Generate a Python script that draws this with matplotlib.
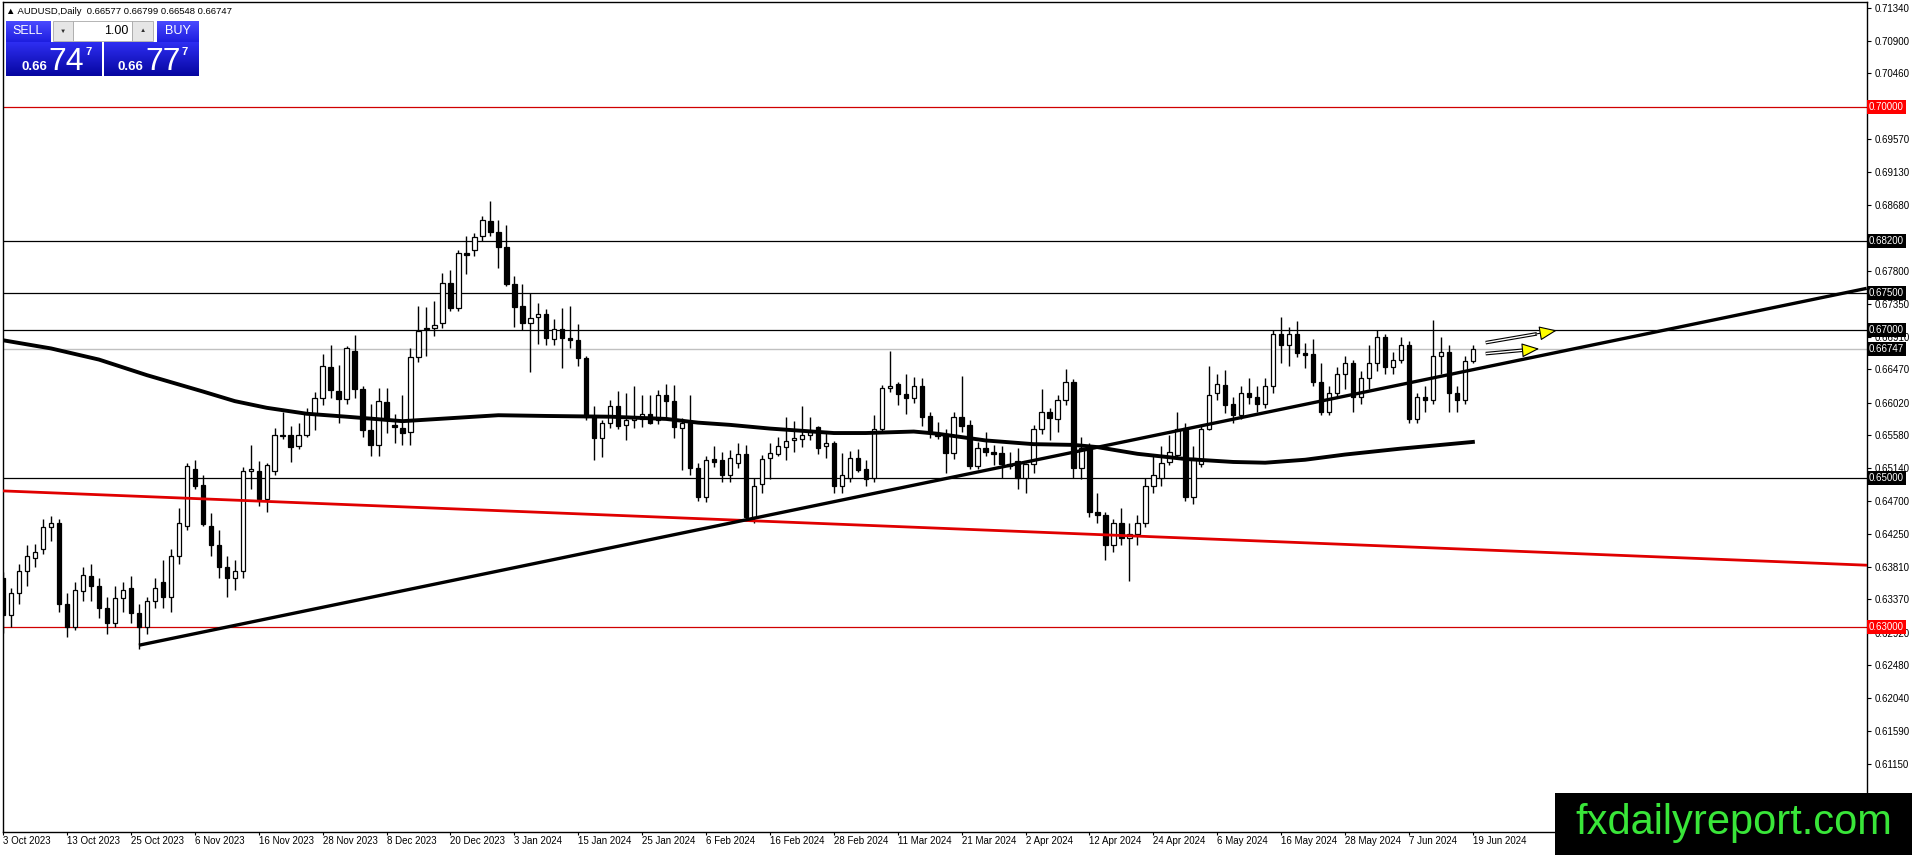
import numpy as np
import matplotlib.pyplot as plt
from matplotlib.patches import Rectangle
from matplotlib.transforms import blended_transform_factory

plt.rcParams['font.family'] = ['Liberation Sans', 'DejaVu Sans']

W, H = 1912, 855

# daily candles, bar 0 = 3 Oct 2023 ... bar 184 = 19 Jun 2024
opens = [0.6366, 0.6316, 0.6345, 0.6375, 0.6392, 0.6405, 0.6434, 0.6440, 0.6330, 0.6300,
         0.6348, 0.6368, 0.6355, 0.6325, 0.6305, 0.6338, 0.6352, 0.6318, 0.6300, 0.6335,
         0.6360, 0.6340, 0.6395, 0.6436, 0.6512, 0.6491, 0.6436, 0.6410, 0.6380, 0.6365,
         0.6375, 0.6510, 0.6510, 0.6472, 0.6510, 0.6559, 0.6558, 0.6543, 0.6559, 0.6587,
         0.6608, 0.6650, 0.6618, 0.6607, 0.6672, 0.6620, 0.6565, 0.6545, 0.6603, 0.6572,
         0.6568, 0.6562, 0.6663, 0.6701, 0.6702, 0.6709, 0.6763, 0.6730, 0.6803, 0.6807,
         0.6826, 0.6847, 0.6832, 0.6812, 0.6762, 0.6732, 0.6709, 0.6718, 0.6722, 0.6688,
         0.6701, 0.6689, 0.6686, 0.6662, 0.6584, 0.6554, 0.6574, 0.6598, 0.6572, 0.6579,
         0.6580, 0.6586, 0.6578, 0.6612, 0.6604, 0.6568, 0.6575, 0.6514, 0.6475, 0.6526,
         0.6524, 0.6505, 0.6520, 0.6533, 0.6448, 0.6492, 0.6527, 0.6533, 0.6542, 0.6552,
         0.6553, 0.6559, 0.6569, 0.6543, 0.6547, 0.6490, 0.6500, 0.6528, 0.6513, 0.6501,
         0.6566, 0.6622, 0.6627, 0.6613, 0.6608, 0.6625, 0.6584, 0.6561, 0.6560, 0.6534,
         0.6583, 0.6572, 0.6516, 0.6541, 0.6535, 0.6534, 0.6516, 0.6523, 0.6500, 0.6519,
         0.6566, 0.6589, 0.6580, 0.6605, 0.6630, 0.6514, 0.6540, 0.6455, 0.6450, 0.6410,
         0.6440, 0.6420, 0.6425, 0.6440, 0.6490, 0.6500, 0.6522, 0.6532, 0.6568, 0.6475,
         0.6519, 0.6567, 0.6615, 0.6626, 0.6600, 0.6585, 0.6615, 0.6610, 0.6600, 0.6625,
         0.6695, 0.6679, 0.6695, 0.6669, 0.6668, 0.6630, 0.6590, 0.6615, 0.6640, 0.6655,
         0.6610, 0.6635, 0.6655, 0.6690, 0.6650, 0.6660, 0.6680, 0.6580, 0.6610, 0.6605,
         0.6665, 0.6670, 0.6615, 0.6605, 0.66577]
highs = [0.6374, 0.6352, 0.6385, 0.6410, 0.6412, 0.6445, 0.6449, 0.6445, 0.6345, 0.6360,
         0.6380, 0.6385, 0.6365, 0.6340, 0.6355, 0.6360, 0.6368, 0.6330, 0.6340, 0.6365,
         0.6390, 0.6405, 0.6460, 0.6521, 0.6525, 0.6504, 0.6453, 0.6430, 0.6395, 0.6390,
         0.6515, 0.6545, 0.6523, 0.6520, 0.6568, 0.6590, 0.6570, 0.6575, 0.6595, 0.6616,
         0.6668, 0.6679, 0.6653, 0.6678, 0.6693, 0.6625, 0.6600, 0.6622, 0.6622, 0.6586,
         0.6612, 0.6675, 0.6732, 0.6731, 0.6739, 0.6777, 0.6781, 0.6807, 0.6827, 0.6830,
         0.6854, 0.6874, 0.6848, 0.6841, 0.6773, 0.6762, 0.6750, 0.6736, 0.6728, 0.6715,
         0.6729, 0.6732, 0.6708, 0.6665, 0.6597, 0.6578, 0.6605, 0.6617, 0.6615, 0.6624,
         0.6612, 0.6612, 0.6619, 0.6627, 0.6626, 0.6581, 0.6612, 0.6520, 0.6530, 0.6543,
         0.6535, 0.6538, 0.6547, 0.6545, 0.6500, 0.6532, 0.6548, 0.6555, 0.6582, 0.6577,
         0.6598, 0.6582, 0.6570, 0.6563, 0.6550, 0.6534, 0.6537, 0.6539, 0.6524, 0.6585,
         0.6626, 0.6671, 0.6630, 0.6641, 0.6637, 0.6635, 0.6590, 0.6576, 0.6567, 0.6589,
         0.6638, 0.6578, 0.6549, 0.6563, 0.6545, 0.6544, 0.6536, 0.6541, 0.6521, 0.6572,
         0.6621, 0.6595, 0.6612, 0.6647, 0.6634, 0.6556, 0.6548, 0.6480, 0.6455, 0.6445,
         0.6460, 0.6440, 0.6450, 0.6500, 0.6533, 0.6543, 0.6558, 0.6589, 0.6575, 0.6544,
         0.6572, 0.6651, 0.6640, 0.6646, 0.6610, 0.6625, 0.6635, 0.6625, 0.6635, 0.6700,
         0.6718, 0.6704, 0.6712, 0.6682, 0.6688, 0.6656, 0.6625, 0.6650, 0.6665, 0.6660,
         0.6645, 0.6680, 0.6700, 0.6695, 0.6670, 0.6690, 0.6685, 0.6615, 0.6625, 0.6713,
         0.6690, 0.6680, 0.6625, 0.6665, 0.66799]
lows = [0.6292, 0.6300, 0.6330, 0.6355, 0.6380, 0.6398, 0.6415, 0.6320, 0.6286, 0.6295,
        0.6335, 0.6335, 0.6312, 0.6290, 0.6300, 0.6320, 0.6305, 0.6270, 0.6290, 0.6325,
        0.6325, 0.6320, 0.6385, 0.6430, 0.6485, 0.6436, 0.6395, 0.6365, 0.6340, 0.6350,
        0.6365, 0.6485, 0.6463, 0.6455, 0.6505, 0.6553, 0.6522, 0.6540, 0.6555, 0.6565,
        0.6599, 0.6608, 0.6575, 0.6600, 0.6608, 0.6555, 0.6530, 0.6530, 0.6561, 0.6548,
        0.6545, 0.6545, 0.6657, 0.6665, 0.6692, 0.6702, 0.6726, 0.6726, 0.6775, 0.6800,
        0.6820, 0.6827, 0.6784, 0.6759, 0.6704, 0.6700, 0.6643, 0.6681, 0.6680, 0.6680,
        0.6649, 0.6675, 0.6652, 0.6579, 0.6525, 0.6529, 0.6568, 0.6567, 0.6552, 0.6568,
        0.6569, 0.6573, 0.6573, 0.6580, 0.6554, 0.6511, 0.6504, 0.6469, 0.6468, 0.6515,
        0.6495, 0.6495, 0.6514, 0.6443, 0.6440, 0.6480, 0.6499, 0.6530, 0.6525, 0.6536,
        0.6542, 0.6552, 0.6533, 0.6528, 0.6480, 0.6480, 0.6495, 0.6508, 0.6490, 0.6495,
        0.6562, 0.6616, 0.6599, 0.6587, 0.6602, 0.6571, 0.6554, 0.6553, 0.6507, 0.6526,
        0.6563, 0.6512, 0.6512, 0.6530, 0.6518, 0.6500, 0.6512, 0.6485, 0.6480, 0.6507,
        0.6560, 0.6551, 0.6562, 0.6599, 0.6500, 0.6499, 0.6448, 0.6440, 0.6390, 0.6400,
        0.6410, 0.6362, 0.6410, 0.6435, 0.6480, 0.6490, 0.6518, 0.6528, 0.6470, 0.6465,
        0.6515, 0.6565, 0.6605, 0.6588, 0.6575, 0.6580, 0.6600, 0.6590, 0.6595, 0.6615,
        0.6656, 0.6651, 0.6664, 0.6648, 0.6625, 0.6585, 0.6585, 0.6610, 0.6620, 0.6590,
        0.6600, 0.6620, 0.6645, 0.6640, 0.6640, 0.6655, 0.6575, 0.6575, 0.6590, 0.6600,
        0.6640, 0.6590, 0.6590, 0.6600, 0.66548]
closes = [0.6316, 0.6345, 0.6375, 0.6395, 0.6400, 0.6434, 0.6440, 0.6330, 0.6300, 0.6350,
          0.6370, 0.6355, 0.6325, 0.6305, 0.6338, 0.6350, 0.6318, 0.6300, 0.6335, 0.6352,
          0.6340, 0.6395, 0.6440, 0.6516, 0.6490, 0.6438, 0.6410, 0.6380, 0.6365, 0.6375,
          0.6510, 0.6512, 0.6472, 0.6518, 0.6559, 0.6557, 0.6542, 0.6558, 0.6587, 0.6608,
          0.6651, 0.6619, 0.6607, 0.6676, 0.6621, 0.6565, 0.6545, 0.6604, 0.6579, 0.6569,
          0.6561, 0.6663, 0.6699, 0.6703, 0.6707, 0.6763, 0.6730, 0.6804, 0.6801, 0.6825,
          0.6848, 0.6832, 0.6812, 0.6762, 0.6731, 0.6709, 0.6716, 0.6722, 0.6689, 0.6701,
          0.6689, 0.6687, 0.6662, 0.6583, 0.6554, 0.6574, 0.6598, 0.6571, 0.6579, 0.6583,
          0.6587, 0.6575, 0.6612, 0.6604, 0.6569, 0.6575, 0.6514, 0.6475, 0.6525, 0.6522,
          0.6505, 0.6527, 0.6533, 0.6448, 0.6490, 0.6526, 0.6534, 0.6543, 0.6550, 0.6554,
          0.6559, 0.6562, 0.6541, 0.6547, 0.6490, 0.6505, 0.6528, 0.6511, 0.6499, 0.6566,
          0.6622, 0.6625, 0.6613, 0.6608, 0.6625, 0.6583, 0.6561, 0.6557, 0.6534, 0.6583,
          0.6571, 0.6516, 0.6541, 0.6535, 0.6533, 0.6519, 0.6519, 0.6500, 0.6519, 0.6567,
          0.6589, 0.6581, 0.6605, 0.6630, 0.6514, 0.6541, 0.6455, 0.6450, 0.6410, 0.6440,
          0.6420, 0.6425, 0.6440, 0.6490, 0.6505, 0.6521, 0.6535, 0.6567, 0.6475, 0.6528,
          0.6567, 0.6612, 0.6627, 0.6599, 0.6585, 0.6615, 0.6610, 0.6600, 0.6625, 0.6695,
          0.6679, 0.6695, 0.6669, 0.6666, 0.6630, 0.6590, 0.6615, 0.6640, 0.6655, 0.6610,
          0.6635, 0.6655, 0.6690, 0.6650, 0.6660, 0.6680, 0.6580, 0.6610, 0.6605, 0.6665,
          0.6670, 0.6615, 0.6605, 0.6658, 0.66747]

date_labels = ['3 Oct 2023', '13 Oct 2023', '25 Oct 2023', '6 Nov 2023', '16 Nov 2023',
               '28 Nov 2023', '8 Dec 2023', '20 Dec 2023', '3 Jan 2024', '15 Jan 2024',
               '25 Jan 2024', '6 Feb 2024', '16 Feb 2024', '28 Feb 2024', '11 Mar 2024',
               '21 Mar 2024', '2 Apr 2024', '12 Apr 2024', '24 Apr 2024', '6 May 2024',
               '16 May 2024', '28 May 2024', '7 Jun 2024', '19 Jun 2024']
label_step = 8

# moving average
ma_bars = [0, 6, 12, 18, 25, 29, 33, 38, 43, 50, 56, 62, 68, 76, 83, 87, 91, 96, 100,
           104, 108, 114, 117, 123, 129, 134, 137, 142, 148, 154, 158, 163, 168, 175, 184]
ma_vals = [0.6686, 0.6675, 0.6660, 0.6639, 0.6617, 0.6604, 0.6595, 0.6587, 0.6583, 0.6577,
           0.6581, 0.6585, 0.6584, 0.6583, 0.6580, 0.6575, 0.6572, 0.6567, 0.6564, 0.6561,
           0.6561, 0.6563, 0.6560, 0.6551, 0.6546, 0.6545, 0.6542, 0.6533, 0.6526, 0.6522,
           0.6521, 0.6525, 0.6532, 0.6540, 0.6549]

# drawn objects
trend_bars = [17, 93]
trend_vals = [0.6275, 0.6444]
red_bars = [0, 233]
red_vals = [0.6483, 0.6383]
black_levels = [0.68200, 0.67500, 0.67000, 0.65000]
red_levels = [0.70000, 0.63000]
bid = 0.66747

tick_vals = [0.71340, 0.70900, 0.70460, 0.69570, 0.69130, 0.68680, 0.67800, 0.67350,
             0.66910, 0.66470, 0.66020, 0.65580, 0.65140, 0.64700, 0.64250, 0.63810,
             0.63370, 0.62920, 0.62480, 0.62040, 0.61590, 0.61150]

fig = plt.figure(figsize=(W / 100, H / 100), dpi=100)
ax = fig.add_axes([2.7 / W, 1 - 832 / H, 1864 / W, 830 / H])
ax.set_xlim(-0.05, 233.3)
ax.set_ylim(0.60233, 0.71419)
for s in ax.spines.values():
    s.set_linewidth(1.0)

o = np.array(opens); h = np.array(highs); l = np.array(lows); c = np.array(closes)
x = np.arange(len(c))
up = c >= o
bot = np.minimum(o, c)
hgt = np.maximum(np.abs(c - o), 0.00006)

ax.vlines(x, l, h, color='black', lw=1.0, zorder=3)
ax.bar(x[up], hgt[up], bottom=bot[up], width=0.55, facecolor='white',
       edgecolor='black', lw=0.9, zorder=4)
ax.bar(x[~up], hgt[~up], bottom=bot[~up], width=0.55, facecolor='black',
       edgecolor='black', lw=0.9, zorder=4)

# levels
for v in black_levels:
    ax.axhline(v, color='black', lw=0.9, zorder=2)
for v in red_levels:
    ax.axhline(v, color='#d00000', lw=0.9, zorder=2)
ax.axhline(bid, color='#c0c0c0', lw=1.0, zorder=2)

# moving average and trend lines
ax.plot(ma_bars, ma_vals, color='black', lw=2.8, zorder=6)
slope = (trend_vals[1] - trend_vals[0]) / (trend_bars[1] - trend_bars[0])
x_end = ax.get_xlim()[1]
ax.plot([trend_bars[0], x_end],
        [trend_vals[0], trend_vals[0] + slope * (x_end - trend_bars[0])],
        color='black', lw=2.4, zorder=6, solid_capstyle='butt')
ax.axline((red_bars[0], red_vals[0]), (red_bars[1], red_vals[1]),
          color='#e00000', lw=2.0, zorder=5)

# arrows
for (x0, y0, x1, y1) in [(185.6, 0.66828, 194.5, 0.66993), (185.6, 0.66680, 192.3, 0.66746)]:
    xm = x0 + (x1 - x0) * 0.72
    ym = y0 + (y1 - y0) * 0.72
    ax.plot([x0, xm], [y0, ym], color='black', lw=2.6, zorder=7, solid_capstyle='butt')
    ax.plot([x0, xm], [y0, ym], color='white', lw=1.0, zorder=8, solid_capstyle='butt')
    ax.annotate('', xy=(x1, y1), xytext=(xm - (x1 - x0) * 0.02, ym - (y1 - y0) * 0.02),
                arrowprops=dict(arrowstyle='-|>,head_length=1.1,head_width=0.45',
                                fc='#ffff00', ec='black', lw=0.8,
                                shrinkA=0, shrinkB=0), zorder=9)

# right price axis
ax.yaxis.tick_right()
ax.set_yticks(tick_vals)
ax.set_yticklabels([f'{v:.5f}' for v in tick_vals])
ax.tick_params(axis='y', length=3, pad=3, labelsize=7, width=0.8)

tr = blended_transform_factory(ax.transAxes, ax.transData)
for v, col in [(0.70000, '#ff0000'), (0.68200, 'black'), (0.67500, 'black'),
               (0.67000, 'black'), (bid, 'black'), (0.65000, 'black'), (0.63000, '#ff0000')]:
    ax.text(1.0012, v, f'{v:.5f}', transform=tr, color='white', fontsize=7,
            va='center', ha='left', zorder=20, clip_on=False,
            bbox=dict(boxstyle='square,pad=0.22', fc=col, ec='none'))

# time axis
ax.set_xticks(x[::label_step])
ax.set_xticklabels(date_labels, fontsize=7, ha='left')
ax.tick_params(axis='x', length=2, pad=1, width=0.8)

# header line
fig.text(6 / W, 1 - 11 / H, '\u25b2 AUDUSD,Daily  0.66577 0.66799 0.66548 0.66747',
         fontsize=6.8, va='center', ha='left')


def px_rect(x0, y0, x1, y1, fc, ec='none', lw=0.0):
    fig.add_artist(Rectangle((x0 / W, 1 - y1 / H), (x1 - x0) / W, (y1 - y0) / H,
                             transform=fig.transFigure, fc=fc, ec=ec, lw=lw, zorder=30))


def grad_box(x0, y0, x1, y1, top, bottom):
    a = fig.add_axes([x0 / W, 1 - y1 / H, (x1 - x0) / W, (y1 - y0) / H], zorder=30)
    t = np.array(plt.matplotlib.colors.to_rgb(top))
    b = np.array(plt.matplotlib.colors.to_rgb(bottom))
    f = np.linspace(0, 1, 64)[:, None, None]
    img = t * (1 - f) + b * f
    a.imshow(np.repeat(img, 2, axis=1), aspect='auto')
    a.axis('off')


# one-click trading panel
grad_box(6, 21, 51, 42, '#4a4aff', '#1e1ee0')
grad_box(157, 21, 199, 42, '#4a4aff', '#1e1ee0')
grad_box(6, 42, 102, 76, '#2e2ef2', '#0606a0')
grad_box(104, 42, 199, 76, '#2e2ef2', '#0606a0')
px_rect(53, 21, 73, 41, '#e6e6e6', '#a8a8a8', 0.6)
px_rect(73, 21, 132, 41, 'white', '#a8a8a8', 0.6)
px_rect(132, 21, 153, 41, '#e6e6e6', '#a8a8a8', 0.6)
px_rect(10, 41, 47, 42, '#8a8aff')
px_rect(160, 41, 196, 42, '#8a8aff')

fig.text(28 / W, 1 - 31 / H, 'SELL', color='white', fontsize=9, ha='center', va='center', zorder=40)
fig.text(178 / W, 1 - 31 / H, 'BUY', color='white', fontsize=9, ha='center', va='center', zorder=40)
fig.text(63 / W, 1 - 31 / H, '\u25bc', color='#303030', fontsize=4.5, ha='center', va='center', zorder=40)
fig.text(143 / W, 1 - 31 / H, '\u25b2', color='#303030', fontsize=4.5, ha='center', va='center', zorder=40)
fig.text(128 / W, 1 - 31 / H, '1.00', color='black', fontsize=9, ha='right', va='center', zorder=40)

for x0, big in [(21, '74'), (118, '77')]:
    fig.text(x0 / W, 1 - 70 / H, '0.66', color='white', fontsize=9.5, fontweight='bold',
             ha='left', va='baseline', zorder=40)
    fig.text((x0 + 27) / W, 1 - 70 / H, big, color='white', fontsize=23,
             ha='left', va='baseline', zorder=40)
    fig.text((x0 + 64) / W, 1 - 55 / H, '7', color='white', fontsize=8, fontweight='bold',
             ha='left', va='baseline', zorder=40)

# watermark
px_rect(1555, 793, 1912, 855, 'black')
fig.text(1734 / W, 1 - 823 / H, 'fxdailyreport.com', color='#39e639', fontsize=30,
         ha='center', va='center', zorder=40)

fig.savefig('out.png', dpi=100)
